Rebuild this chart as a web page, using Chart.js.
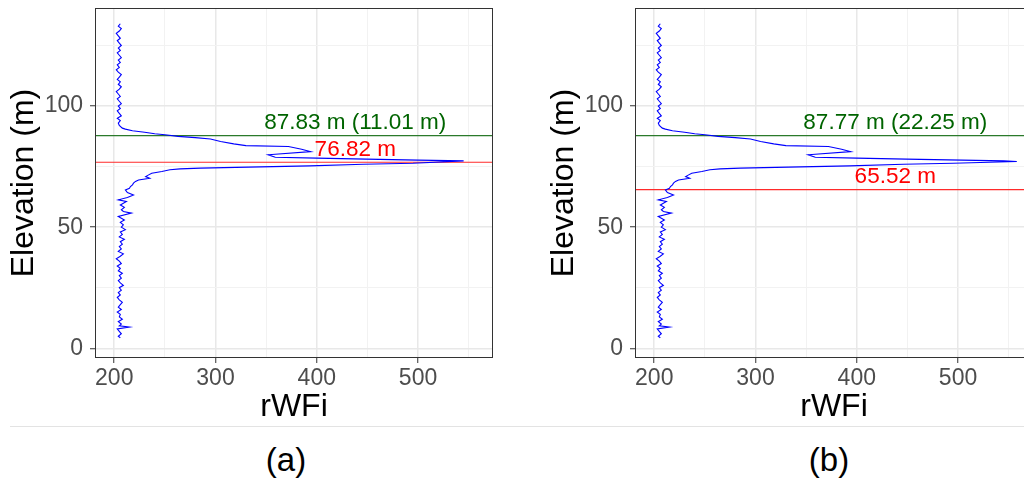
<!DOCTYPE html>
<html lang="en">
<head>
<meta charset="UTF-8">
<title>rWFi elevation profiles</title>
<script src="https://cdn.jsdelivr.net/npm/chart.js"></script>
<style>
  html, body { margin: 0; padding: 0; background: #fff; overflow: hidden; }
  #wrap { position: relative; width: 1024px; height: 481px; overflow: hidden; font-family: 'Liberation Sans', Arial, sans-serif; }
  canvas { position: absolute; top: 0; }
  #chartA { left: 0; }
  #chartB { left: 540px; }
  .sep { position: absolute; left: 10px; right: 0; top: 426px; border-top: 1px solid #e3e3e3; }
  .cap { position: absolute; top: 440px; width: 100px; text-align: center; font-size: 33px; line-height: 40px; color: #000; }
</style>
</head>
<body>
<div id="wrap">
  <canvas id="chartA" width="512" height="425"></canvas>
  <canvas id="chartB" width="512" height="425"></canvas>
  <div class="sep"></div>
  <div class="cap" style="left:236px">(a)</div>
  <div class="cap" style="left:779px">(b)</div>
</div>
<script>
// axis setup
const xMin = 181, xMax = 574;
const yMin = -4, yMax = 140.5;
const xTicks = [200, 250, 300, 350, 400, 450, 500, 550];
const xLabelTicks = [200, 300, 400, 500];
const yTicks = [0, 25, 50, 75, 100, 125];
const yLabelTicks = [0, 50, 100];

// profile below the peak (shared by both panels)
const elevLow = [4.3, 5, 6, 7, 8, 8.8, 9.3, 10, 11, 12, 13, 14, 15, 16, 17, 18, 19, 20, 21, 22, 23, 24, 25, 26, 27, 28, 29, 30,
  31, 32, 33, 34, 35, 36, 37, 38, 39, 40, 41, 42, 43, 44, 45, 46, 47, 48, 49, 50, 51, 52, 53, 54.4, 55.8, 56.5, 57.2, 58.2,
  59.2, 60.6, 61.3, 62.3, 63.3, 64.3, 65.4, 66.1, 66.8, 67.5, 68.2, 68.9, 69.5, 70.2, 70.9, 71.6, 72.3, 73.0, 73.7, 74.1,
  74.4, 74.7, 75.3, 76.0, 76.4];
const rwfiLow = [206, 204, 207, 205, 203, 215, 205, 207, 204, 208, 205, 206, 203, 207, 204, 206, 208, 205, 203, 206, 204, 207, 205, 209, 206, 204, 207, 205,
  208, 204, 206, 203, 207, 205, 202, 206, 209, 204, 207, 205, 208, 206, 210, 205, 208, 206, 211, 207, 209, 206, 210, 204, 217, 209, 207, 210,
  206, 212, 204, 213, 219, 213, 211, 215, 216, 218, 219, 221, 224, 235, 231, 234, 237, 247, 255, 265,
  285, 320, 393, 446, 495];

// peak region
const elevPeakA = [77.4, 77.7];
const rwfiPeakA = [545, 500];
const elevPeakB = [77.1, 77.4];
const rwfiPeakB = [558, 545];

// profile above the peak (shared)
const elevHigh = [78.1, 78.5, 78.9, 79.9, 81.2, 82.2, 83.3, 83.7, 84.4, 85.4, 86.4, 87.0, 87.5, 88.2, 88.6, 89.2, 89.8, 90.5, 90.9,
  92, 93, 94, 95, 96, 97, 98, 99, 100, 101, 102, 103, 104, 105, 106, 107, 108, 109, 110, 111, 112, 113, 114, 115, 116,
  117, 118, 119, 120, 121, 122, 123, 124, 125, 126, 127, 128, 129, 130, 131, 132, 133, 134];
const rwfiHigh = [449, 400, 359, 352, 394, 385, 372, 330, 318, 305, 295, 280, 263, 250, 240, 230, 218, 211, 208,
  205, 204, 206, 203, 207, 205, 203, 206, 204, 207, 205, 203, 206, 204, 202, 205, 207, 204, 206, 203, 205, 207, 204, 202, 205,
  203, 206, 204, 207, 205, 203, 206, 204, 207, 205, 203, 206, 204, 202, 205, 207, 204, 206, 204];

// reference lines and their labels
const greenA = 87.83, redA = 76.82;
const greenB = 87.77, redB = 65.52;
const greenTextA = '87.83 m (11.01 m)', redTextA = '76.82 m';
const greenTextB = '87.77 m (22.25 m)', redTextB = '65.52 m';
const labelX = 438, labelOffset = 5.2;

const FONT = "'Liberation Sans', Arial, sans-serif";
Chart.defaults.font.family = FONT;

const toPoints = (ys, xs) => xs.map((x, i) => ({ x: x, y: ys[i] }));

const panelPlugin = {
  id: 'panel',
  afterDatasetsDraw(chart, args, opts) {
    const { ctx, scales } = chart;
    ctx.save();
    ctx.font = '22.5px ' + FONT;
    ctx.textAlign = 'center';
    ctx.textBaseline = 'middle';
    opts.labels.forEach(l => {
      ctx.fillStyle = l.color;
      ctx.fillText(l.text, scales.x.getPixelForValue(labelX), scales.y.getPixelForValue(l.y + labelOffset));
    });
    ctx.restore();
  },
  afterDraw(chart) {
    const { ctx, chartArea: a } = chart;
    ctx.save();
    ctx.strokeStyle = '#333333';
    ctx.lineWidth = 1;
    ctx.strokeRect(a.left + 0.5, a.top + 0.5, a.right - a.left - 1, a.bottom - a.top - 1);
    ctx.restore();
  }
};

function makeChart(id, elev, rwfi, gY, gText, rY, rText) {
  new Chart(document.getElementById(id), {
    type: 'scatter',
    data: {
      datasets: [
        { data: toPoints(elev, rwfi), showLine: true, borderColor: '#0000ff', borderWidth: 1.1, pointRadius: 0 },
        { data: [{ x: xMin, y: rY }, { x: xMax, y: rY }], showLine: true, borderColor: '#ff2a2a', borderWidth: 1.2, pointRadius: 0 },
        { data: [{ x: xMin, y: gY }, { x: xMax, y: gY }], showLine: true, borderColor: '#2b7a2b', borderWidth: 1.2, pointRadius: 0 }
      ]
    },
    options: {
      responsive: false,
      animation: false,
      devicePixelRatio: 1,
      layout: { padding: { top: 8, right: 19, bottom: 0, left: 0 }, autoPadding: false },
      plugins: {
        legend: { display: false },
        tooltip: { enabled: false },
        panel: { labels: [{ text: gText, y: gY, color: '#006400' }, { text: rText, y: rY, color: '#ff0000' }] }
      },
      scales: {
        x: {
          type: 'linear', min: xMin, max: xMax,
          afterBuildTicks: s => { s.ticks = xTicks.map(v => ({ value: v })); },
          afterFit: s => { s.height = 67; s.paddingLeft = 0; s.paddingRight = 0; s.paddingTop = 0; s.paddingBottom = 0; },
          ticks: { callback: v => xLabelTicks.includes(v) ? String(v) : '', color: '#4d4d4d', font: { size: 23, lineHeight: 1.2 }, padding: 2, maxRotation: 0, autoSkip: false },
          grid: {
            color: c => xLabelTicks.includes(c.tick.value) ? '#e8e8e8' : '#f2f2f2',
            lineWidth: c => xLabelTicks.includes(c.tick.value) ? 1.5 : 1,
            tickColor: c => xLabelTicks.includes(c.tick.value) ? '#333333' : 'rgba(0,0,0,0)',
            tickLength: 5, tickWidth: 1
          },
          border: { display: false },
          title: { display: true, text: 'rWFi', color: '#000', font: { size: 32, lineHeight: 1 }, padding: { top: 0, bottom: 1.5 } }
        },
        y: {
          type: 'linear', min: yMin, max: yMax,
          afterBuildTicks: s => { s.ticks = yTicks.map(v => ({ value: v })); },
          afterFit: s => { s.width = 95; s.paddingTop = 0; s.paddingBottom = 0; s.paddingLeft = 0; s.paddingRight = 0; },
          ticks: { callback: v => yLabelTicks.includes(v) ? String(v) : '', color: '#4d4d4d', font: { size: 23 }, padding: 7, autoSkip: false },
          grid: {
            color: c => yLabelTicks.includes(c.tick.value) ? '#e8e8e8' : '#f2f2f2',
            lineWidth: c => yLabelTicks.includes(c.tick.value) ? 1.5 : 1,
            tickColor: c => yLabelTicks.includes(c.tick.value) ? '#333333' : 'rgba(0,0,0,0)',
            tickLength: 5, tickWidth: 1
          },
          border: { display: false },
          title: { display: true, text: 'Elevation (m)', color: '#000', font: { size: 32, lineHeight: 1 }, padding: { top: 8, bottom: 0 } }
        }
      }
    },
    plugins: [panelPlugin]
  });
}

makeChart('chartA', elevLow.concat(elevPeakA, elevHigh), rwfiLow.concat(rwfiPeakA, rwfiHigh), greenA, greenTextA, redA, redTextA);
makeChart('chartB', elevLow.concat(elevPeakB, elevHigh), rwfiLow.concat(rwfiPeakB, rwfiHigh), greenB, greenTextB, redB, redTextB);
</script>
</body>
</html>
